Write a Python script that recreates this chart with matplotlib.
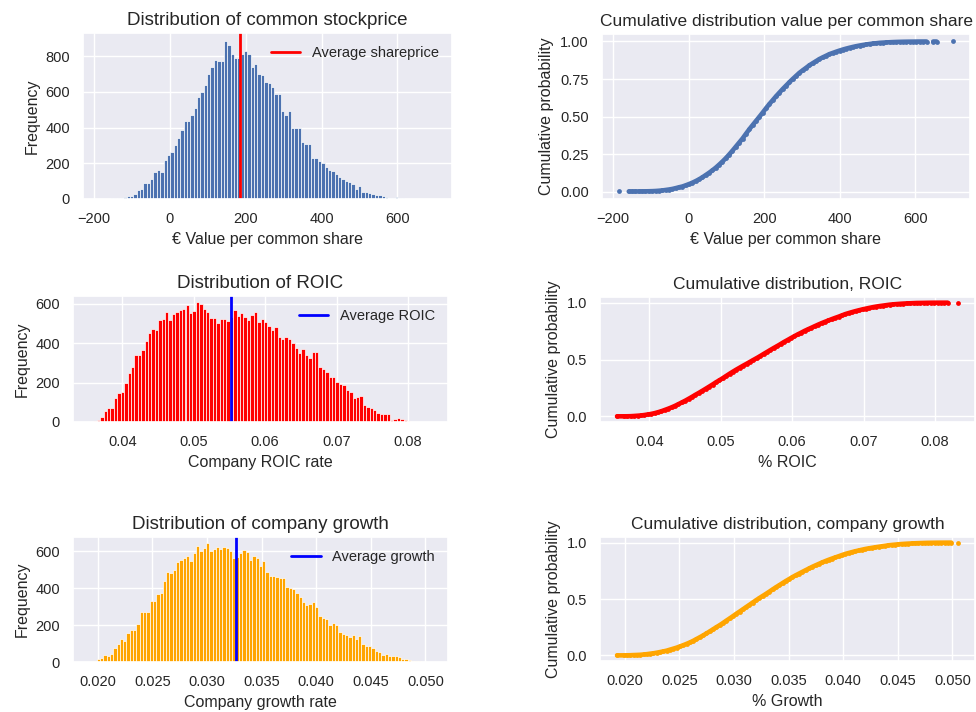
import matplotlib
matplotlib.use("Agg")
import matplotlib.pyplot as plt
import numpy as np
import seaborn as sns

# histogram counts (equal bins between min and max)
price_counts = [
    1, 0, 1, 3, 5, 6, 8, 12, 15, 18,
    30, 50, 55, 88, 90, 110, 150, 165, 150, 220,
    245, 265, 305, 340, 385, 435, 435, 470, 510, 570,
    600, 640, 700, 740, 780, 775, 775, 885, 860, 810,
    790, 790, 810, 830, 810, 740, 755, 700, 695, 655,
    650, 625, 590, 590, 490, 470, 490, 400, 400, 400,
    320, 310, 310, 230, 230, 215, 200, 180, 165, 155,
    140, 125, 110, 100, 95, 85, 55, 75, 40, 40,
    35, 30, 25, 20, 15, 12, 8, 5, 10, 5,
    3, 2, 0, 1, 1, 0, 0, 0, 0, 1,
]
price_min, price_max = -185.0, 700.0
price_mean = 186.0

roic_counts = [
    2, 3, 10, 25, 55, 70, 70, 120, 145, 155,
    200, 250, 280, 340, 340, 365, 410, 450, 475, 470,
    520, 525, 560, 520, 550, 560, 570, 575, 595, 555,
    565, 610, 600, 575, 560, 530, 530, 505, 525, 525,
    515, 535, 570, 540, 555, 535, 520, 545, 560, 510,
    525, 510, 490, 470, 485, 430, 420, 430, 420, 400,
    375, 350, 370, 340, 325, 355, 355, 280, 270, 255,
    230, 230, 205, 195, 190, 165, 150, 120, 125, 130,
    85, 75, 70, 60, 45, 40, 40, 40, 10, 15,
    20, 15, 10, 3, 2, 1, 1, 0, 0, 1,
]
roic_min, roic_max = 0.0355, 0.0832
roic_mean = 0.0552

growth_counts = [
    2, 5, 15, 20, 40, 35, 45, 75, 95, 125,
    115, 155, 175, 175, 205, 270, 270, 270, 330, 330,
    370, 375, 440, 490, 480, 500, 540, 555, 565, 575,
    545, 590, 630, 600, 615, 645, 600, 610, 625, 610,
    625, 615, 600, 565, 570, 590, 605, 595, 555, 575,
    565, 520, 545, 490, 465, 465, 460, 455, 455, 405,
    400, 395, 375, 350, 325, 310, 315, 325, 300, 250,
    240, 235, 200, 210, 200, 160, 150, 145, 135, 145,
    125, 140, 100, 85, 85, 75, 60, 55, 40, 45,
    35, 30, 30, 25, 15, 15, 10, 5, 5, 3,
    1, 0, 1,
]
growth_min, growth_max = 0.0193, 0.0505
growth_mean = 0.0327

price_ticks = [-200, 0, 200, 400, 600]
roic_ticks = [0.04, 0.05, 0.06, 0.07, 0.08]
growth_ticks = [0.020, 0.025, 0.030, 0.035, 0.040, 0.045, 0.050]

sns.set_theme(style="darkgrid")
plt.rcParams["font.family"] = ["Liberation Sans", "DejaVu Sans"]
plt.rcParams["axes.titlesize"] = 12.5
plt.rcParams["axes.labelsize"] = 11.5
plt.rcParams["xtick.labelsize"] = 10.5
plt.rcParams["ytick.labelsize"] = 10.5

W, H = 976, 712
fig = plt.figure(figsize=(W / 100, H / 100), dpi=100)


def px_axes(left, top, right, bottom):
    return fig.add_axes([left / W, 1 - bottom / H, (right - left) / W, (bottom - top) / H])


def draw_hist(ax, counts, lo, hi, mean, color, line_color, line_label, title, xlabel, xticks, fmt):
    counts = np.asarray(counts, dtype=float)
    edges = np.linspace(lo, hi, len(counts) + 1)
    ax.bar(edges[:-1], counts, width=np.diff(edges), align="edge",
           color=color, edgecolor="white", linewidth=0.5)
    ax.axvline(mean, color=line_color, lw=2, label=line_label)
    ax.set_title(title, fontsize=13.5)
    ax.set_xlabel(xlabel)
    ax.set_ylabel("Frequency")
    ax.set_xticks(xticks)
    ax.set_xticklabels([fmt.format(t).replace("-", "\u2212") for t in xticks])
    ax.legend(loc="upper right", frameon=False, fontsize=10.5)


def draw_cdf(ax, counts, lo, hi, color, title, xlabel, xticks, fmt, yticks, yfmt):
    counts = np.asarray(counts, dtype=float)
    edges = np.linspace(lo, hi, len(counts) + 1)
    cdf = np.cumsum(counts) / counts.sum()
    xs = edges[1:].copy()
    xs[0] = edges[0]
    keep = counts > 0
    band = np.ma.masked_where(~keep, cdf)
    ax.plot(xs, band, color=color, lw=3.3, solid_capstyle="round")
    ax.scatter(xs[keep], cdf[keep], s=12, color=color, linewidths=0)
    ax.set_title(title)
    ax.set_xlabel(xlabel)
    ax.set_ylabel("Cumulative probability")
    ax.set_xticks(xticks)
    ax.set_xticklabels([fmt.format(t).replace("-", "\u2212") for t in xticks])
    ax.set_yticks(yticks)
    ax.set_yticklabels([yfmt.format(t) for t in yticks])


ax1 = px_axes(83, 33, 452, 199)
draw_hist(ax1, price_counts, price_min, price_max, price_mean, "#4C72B0", "red",
          "Average shareprice", "Distribution of common stockprice",
          "\u20ac Value per common share", price_ticks, "{:d}")

ax2 = px_axes(602, 34, 970, 199)
draw_cdf(ax2, price_counts, price_min, price_max, "#4C72B0",
         "Cumulative distribution value per common share",
         "\u20ac Value per common share", price_ticks, "{:d}",
         [0, 0.25, 0.5, 0.75, 1.0], "{:.2f}")

ax3 = px_axes(73, 296, 448, 422)
draw_hist(ax3, roic_counts, roic_min, roic_max, roic_mean, "red", "blue",
          "Average ROIC", "Distribution of ROIC", "Company ROIC rate",
          roic_ticks, "{:.2f}")

ax4 = px_axes(600, 297, 975, 422)
draw_cdf(ax4, roic_counts, roic_min, roic_max, "red",
         "Cumulative distribution, ROIC", "% ROIC", roic_ticks, "{:.2f}",
         [0, 0.5, 1.0], "{:.1f}")

ax5 = px_axes(73, 537, 448, 662)
draw_hist(ax5, growth_counts, growth_min, growth_max, growth_mean, "orange", "blue",
          "Average growth", "Distribution of company growth", "Company growth rate",
          growth_ticks, "{:.3f}")

ax6 = px_axes(600, 537, 975, 661)
draw_cdf(ax6, growth_counts, growth_min, growth_max, "orange",
         "Cumulative distribution, company growth", "% Growth", growth_ticks, "{:.3f}",
         [0, 0.5, 1.0], "{:.1f}")

fig.savefig("out.png", dpi=100)
